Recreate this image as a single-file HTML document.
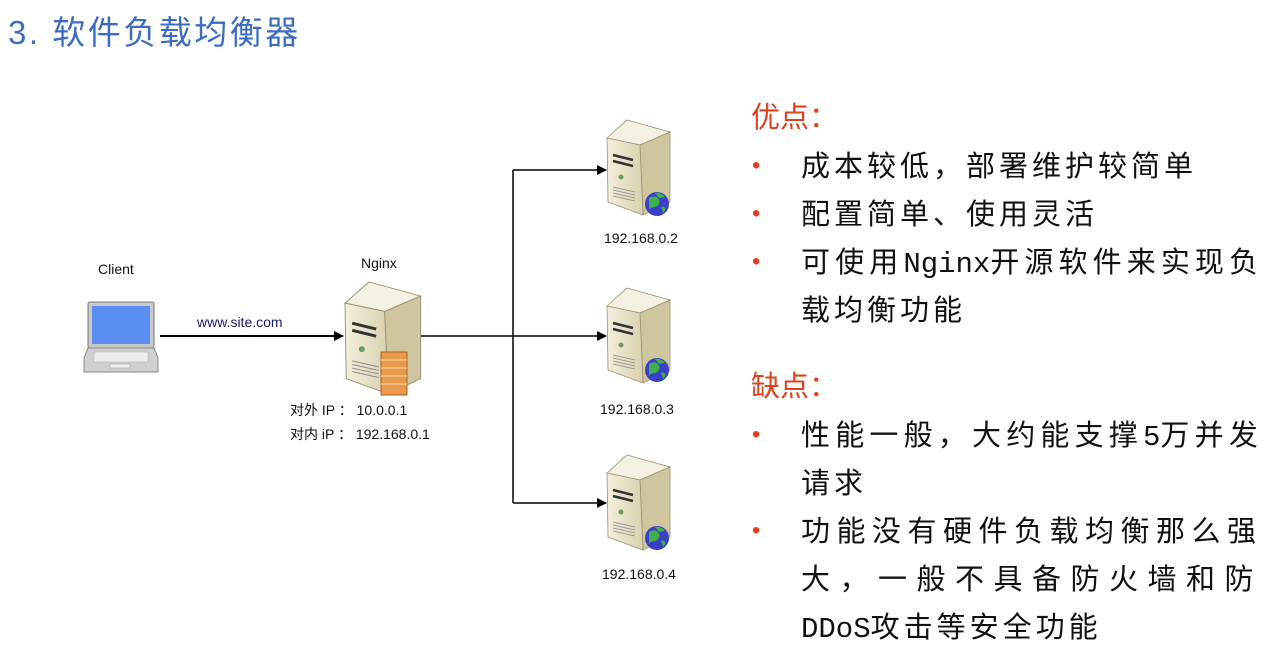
<!DOCTYPE html>
<html><head><meta charset="utf-8"><style>
body{margin:0;width:1280px;height:655px;background:#fff;overflow:hidden;position:relative;font-family:"Liberation Sans","Noto Sans CJK SC",sans-serif}
.t{position:absolute;white-space:nowrap}
.r{color:#e0401c}
.b{font-size:29px;color:#111;left:801px;letter-spacing:4px;font-family:"Liberation Sans","Noto Sans CJK SC",sans-serif}
.m{font-family:"Liberation Mono",monospace;letter-spacing:0}
.d{left:752px;color:#e0401c;font-size:24px}
.s{font-size:14px;color:#111}
</style></head><body>
<div class="t" style="left:8px;top:6px;font-size:33px;color:#3b6cc4;letter-spacing:2.5px">3. 软件负载均衡器</div>

<svg width="1280" height="655" style="position:absolute;left:0;top:0">
<defs>
<marker id="a" markerWidth="10" markerHeight="10" refX="9" refY="5" orient="auto" markerUnits="userSpaceOnUse"><path d="M0,0L10,5L0,10z" fill="#000"/></marker>
<linearGradient id="f" x1="0" x2="1"><stop offset="0" stop-color="#f3efdc"/><stop offset="1" stop-color="#d8d1b0"/></linearGradient>
<g id="srv">
<path d="M0,23 L20,5 L63,17 L33,30z" fill="#f4f1e2" stroke="#9a9270" stroke-width="0.8"/>
<path d="M33,30 L63,17 L63,87 L36,100z" fill="#cfc6a0" stroke="#9a9270" stroke-width="0.8"/>
<path d="M0,23 L33,30 L36,100 L1,87z" fill="url(#f)" stroke="#9a9270" stroke-width="0.8"/>
<path d="M6,40 L26,45 M6,46 L26,51" stroke="#333" stroke-width="2.5"/>
<circle cx="14" cy="62" r="2.5" fill="#6a9a6a"/>
<path d="M6,72 L28,77 M6,75 L28,80 M6,78 L28,83 M6,81 L28,86" stroke="#888" stroke-width="0.8"/>
</g>
<g id="globe"><circle r="12" fill="#3a3fc8"/><path d="M-8,-6 C-2,-10 4,-6 2,0 C0,4 -6,2 -8,6z M4,3 C8,1 10,6 6,9z M-2,-11 C2,-12 6,-10 8,-7 L2,-6z" fill="#3fb04a"/></g>
</defs>
<line x1="160" y1="336" x2="343" y2="336" stroke="#000" stroke-width="2" marker-end="url(#a)"/>
<line x1="420" y1="336" x2="513" y2="336" stroke="#000" stroke-width="1.5"/>
<line x1="513" y1="170" x2="513" y2="503" stroke="#000" stroke-width="1.5"/>
<line x1="513" y1="170" x2="606" y2="170" stroke="#000" stroke-width="1.5" marker-end="url(#a)"/>
<line x1="513" y1="336" x2="606" y2="336" stroke="#000" stroke-width="1.5" marker-end="url(#a)"/>
<line x1="513" y1="503" x2="606" y2="503" stroke="#000" stroke-width="1.5" marker-end="url(#a)"/>
<rect x="88" y="302" width="66" height="46" rx="2" fill="#c8c8c8" stroke="#777"/>
<rect x="92" y="306" width="58" height="38" fill="#5a8ef0"/>
<path d="M84,358 L88,348 L154,348 L158,358 L158,372 L84,372z" fill="#d0d0d0" stroke="#888"/>
<rect x="94" y="352" width="54" height="10" fill="#eee" stroke="#aaa" stroke-width="0.5"/>
<rect x="110" y="364" width="20" height="4" fill="#eee" stroke="#999" stroke-width="0.5"/>
<use href="#srv" transform="translate(345,276) scale(1.2,1.18)"/>
<rect x="381" y="352" width="26" height="43" fill="#e89a4a" stroke="#a75d20"/>
<path d="M381,360h26M381,368h26M381,376h26M381,384h26" stroke="#f6c38a" stroke-width="1.5"/>
<use href="#srv" transform="translate(607,115)"/>
<use href="#globe" transform="translate(657,204)"/>
<use href="#srv" transform="translate(607,283)"/>
<use href="#globe" transform="translate(657,370)"/>
<use href="#srv" transform="translate(607,450)"/>
<use href="#globe" transform="translate(657,538)"/>
</svg>

<div class="t s" style="left:98px;top:261px">Client</div>
<div class="t s" style="left:361px;top:255px">Nginx</div>
<div class="t s" style="left:197px;top:314px;color:#1a1a6e">www.site.com</div>
<div class="t s" style="left:290px;top:400px">对外 IP ： 10.0.0.1</div>
<div class="t s" style="left:290px;top:424px">对内 iP ： 192.168.0.1</div>
<div class="t s" style="left:604px;top:230px">192.168.0.2</div>
<div class="t s" style="left:600px;top:401px">192.168.0.3</div>
<div class="t s" style="left:602px;top:566px">192.168.0.4</div>

<div class="t r" style="left:751px;top:94px;font-size:29px">优点：</div>
<div class="t d" style="top:152px">•</div><div class="t b" style="top:143px">成本较低，部署维护较简单</div>
<div class="t d" style="top:200px">•</div><div class="t b" style="top:191px">配置简单、使用灵活</div>
<div class="t d" style="top:248px">•</div><div class="t b" style="top:239px;letter-spacing:5.1px">可使用<span class="m">Nginx</span>开源软件来实现负</div>
<div class="t b" style="top:287px">载均衡功能</div>
<div class="t r" style="left:751px;top:363px;font-size:29px">缺点：</div>
<div class="t d" style="top:421px">•</div><div class="t b" style="top:412px;letter-spacing:5.2px">性能一般，大约能支撑<span class="m">5</span>万并发</div>
<div class="t b" style="top:460px">请求</div>
<div class="t d" style="top:517px">•</div><div class="t b" style="top:508px;letter-spacing:6.5px">功能没有硬件负载均衡那么强</div>
<div class="t b" style="top:556px;letter-spacing:9.5px">大，一般不具备防火墙和防</div>
<div class="t b" style="top:604px"><span class="m">DDoS</span>攻击等安全功能</div>
</body></html>
